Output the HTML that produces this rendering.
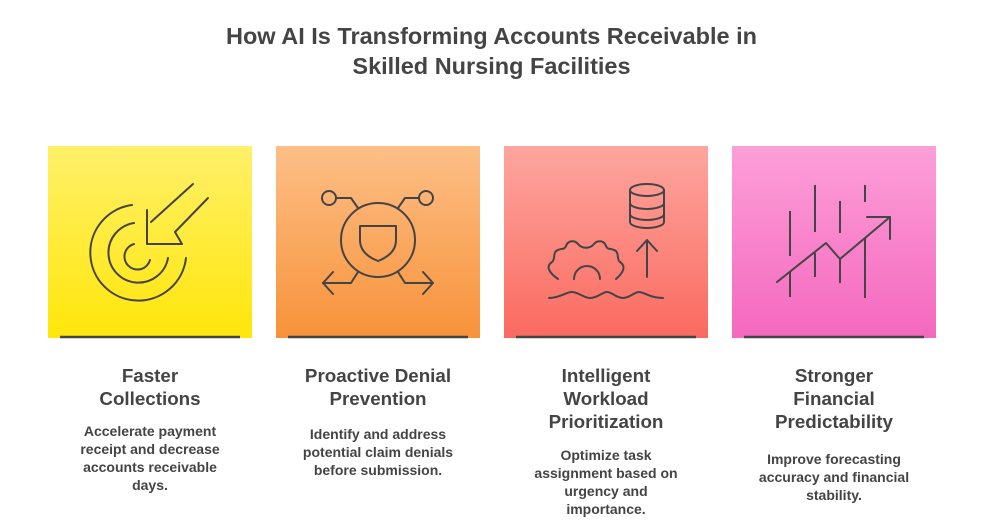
<!DOCTYPE html>
<html><head><meta charset="utf-8"><style>
body{margin:0;width:983px;height:521px;background:#fff;font-family:"Liberation Sans",Arial,sans-serif;color:#444;position:relative;overflow:hidden}
.t{position:absolute;left:0;width:983px;text-align:center;font-weight:bold;font-size:23.5px;line-height:30px;top:21px;color:#444}
.p{position:absolute;top:146px;width:204px;height:192px}
.h{position:absolute;width:240px;text-align:center;font-weight:bold;font-size:18.8px;line-height:23px;color:#444}
.d{position:absolute;width:240px;text-align:center;font-weight:bold;font-size:14px;line-height:18px;color:#444}
</style></head><body>
<div class="t">How AI Is Transforming Accounts Receivable in<br>Skilled Nursing Facilities</div>
<div class="p" style="left:48px;background:linear-gradient(#fff06a,#ffe60a)"></div>
<div class="p" style="left:276px;background:linear-gradient(#fdbf87,#f7923a)"></div>
<div class="p" style="left:504px;background:linear-gradient(#fda69f,#fa6a5f)"></div>
<div class="p" style="left:732px;background:linear-gradient(#fd9fd8,#f468be)"></div>
<svg width="983" height="521" style="position:absolute;left:0;top:0" fill="none" stroke="#444" stroke-width="2" stroke-linecap="round" stroke-linejoin="round">
<g stroke-width="2.5" stroke-linecap="butt"><line x1="60" y1="337" x2="240" y2="337"/><line x1="288" y1="337" x2="468" y2="337"/><line x1="516" y1="337" x2="696" y2="337"/><line x1="744" y1="337" x2="924" y2="337"/></g>
<path d="M132,205 A48,48 0 1 0 186,258"/>
<path d="M134,223 A30,30 0 1 0 168,258"/>
<path d="M134,244 A13,13 0 1 0 150,260"/>
<line x1="193" y1="184" x2="151" y2="222"/>
<line x1="208" y1="198" x2="175" y2="232"/>
<path d="M147,210 V244 H182 L175,232"/>
<circle cx="378" cy="240" r="37"/>
<circle cx="329" cy="198" r="7"/><circle cx="426" cy="198" r="7"/>
<path d="M336,198 H351 L358,208"/><path d="M419,198 H405 L398,208"/>
<path d="M358,272 L351,283 H323"/><path d="M333,272 L323,283 L333,294"/>
<path d="M398,272 L405,283 H433"/><path d="M423,272 L433,283 L423,294"/>
<path d="M360,226 H396 V240 Q396,254 378,261 Q360,254 360,240 Z"/>
<ellipse cx="647" cy="190" rx="17" ry="6"/>
<path d="M630,190 V222 A17,6 0 0 0 664,222 V190"/>
<path d="M630,203 A17,6 0 0 0 664,203"/><path d="M630,214 A17,6 0 0 0 664,214"/>
<line x1="647" y1="277" x2="647" y2="241"/><path d="M637,251 L647,240 L657,251"/>
<path d="M558,279 C548,272 546,266 552,262 C556,259 552,252 558,250 C563,248 564,250 566,246 C568,240 575,240 578,244 C582,249 590,249 594,244 C597,240 604,240 606,246 C608,250 609,248 614,250 C620,252 616,259 620,262 C626,266 624,272 616,279"/>
<path d="M574,279 A13,13 0 0 1 600,279"/>
<path d="M549,298 C560,298 566,292 572,292 C578,292 584,298 590,298 C598,298 602,292 607,292 C612,292 616,298 623,298 C630,298 634,292 639,292 C644,292 650,298 663,298"/>
<g stroke-linecap="butt">
<line x1="790" y1="211" x2="790" y2="256"/><line x1="790" y1="272" x2="790" y2="297"/>
<line x1="815" y1="185" x2="815" y2="232"/><line x1="815" y1="253" x2="815" y2="277"/>
<line x1="840" y1="201" x2="840" y2="233"/><line x1="840" y1="259" x2="840" y2="283"/>
<line x1="865" y1="185" x2="865" y2="202"/><line x1="865" y1="238" x2="865" y2="298"/>
</g>
<path d="M777,282 L826,243 L840,259 L890,217"/>
<path d="M867,217 H890 V239"/>
</svg>
<div class="h" style="left:30px;top:364px">Faster<br>Collections</div>
<div class="d" style="left:30px;top:422px">Accelerate payment<br>receipt and decrease<br>accounts receivable<br>days.</div>
<div class="h" style="left:258px;top:364px">Proactive Denial<br>Prevention</div>
<div class="d" style="left:258px;top:425px">Identify and address<br>potential claim denials<br>before submission.</div>
<div class="h" style="left:486px;top:364px">Intelligent<br>Workload<br>Prioritization</div>
<div class="d" style="left:486px;top:446px">Optimize task<br>assignment based on<br>urgency and<br>importance.</div>
<div class="h" style="left:714px;top:364px">Stronger<br>Financial<br>Predictability</div>
<div class="d" style="left:714px;top:450px">Improve forecasting<br>accuracy and financial<br>stability.</div>
</body></html>
